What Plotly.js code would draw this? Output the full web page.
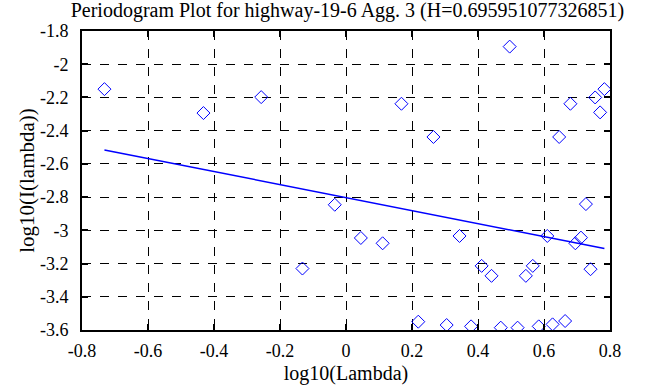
<!DOCTYPE html>
<html>
<head>
<meta charset="utf-8">
<script src="https://cdn.plot.ly/plotly-3.0.1.min.js"></script>
<style>html,body{margin:0;padding:0;background:#fff;}#chart{width:663px;height:387px;}</style>
</head>
<body>
<div id="chart"></div>
<script>
const logLambda = [-0.732, -0.432, -0.257, -0.132, -0.034, 0.045, 0.111, 0.168, 0.265, 0.219,
  0.305, 0.344, 0.379, 0.411, 0.441, 0.469, 0.496, 0.520, 0.545, 0.566,
  0.584, 0.610, 0.626, 0.646, 0.664, 0.680, 0.695, 0.712, 0.727, 0.741,
  0.755, 0.770, 0.783];
const logI = [-2.150, -2.294, -2.198, -3.230, -2.846, -3.046, -3.078, -2.238, -2.438, -3.550,
  -3.570, -3.034, -3.578, -3.214, -3.274, -3.586, -1.894, -3.586, -3.274, -3.214,
  -3.578, -3.034, -3.566, -2.438, -3.546, -2.238, -3.078, -3.044, -2.842, -3.234,
  -2.200, -2.290, -2.150];
const fitX = [-0.732, 0.783];
const fitY = [-2.516, -3.110];
const xTicks = [-0.8, -0.6, -0.4, -0.2, 0, 0.2, 0.4, 0.6, 0.8];
const yTicks = [-1.8, -2, -2.2, -2.4, -2.6, -2.8, -3, -3.2, -3.4, -3.6];

const fam = 'Liberation Serif';
const tickFont = {family: fam, size: 18, color: '#000'};
const axisCommon = {
  showline: true, linecolor: '#000', linewidth: 2, mirror: 'ticks',
  ticks: 'inside', ticklen: 6, tickcolor: '#000', tickwidth: 2,
  showgrid: true, gridcolor: '#000', griddash: 'dash', gridwidth: 1,
  zeroline: false, tickfont: tickFont
};
const data = [
  {x: logLambda, y: logI, type: 'scatter', mode: 'markers',
   marker: {symbol: 'diamond-open', size: 10, color: '#0000ff', line: {width: 1, color: '#0000ff'}},
   hoverinfo: 'skip'},
  {x: fitX, y: fitY, type: 'scatter', mode: 'lines',
   line: {color: '#0000ff', width: 1.5}, hoverinfo: 'skip'}
];
const layout = {
  width: 663, height: 387,
  margin: {l: 82, r: 53, t: 31, b: 57},
  paper_bgcolor: '#fff', plot_bgcolor: '#fff',
  showlegend: false,
  font: tickFont,
  title: {text: 'Periodogram Plot for highway-19-6 Agg. 3 (H=0.695951077326851)', font: {family: fam, size: 20, color: '#000'},
    x: 0.524, xanchor: 'center', yref: 'container', y: 0.975, yanchor: 'middle'},
  xaxis: Object.assign({}, axisCommon, {range: [-0.8, 0.8], tickvals: xTicks, ticktext: xTicks.map(String),
    ticklabelstandoff: 3,
    title: {text: 'log10(Lambda)', font: {family: fam, size: 20, color: '#000'}, standoff: 6}}),
  yaxis: Object.assign({}, axisCommon, {range: [-3.6, -1.8], tickvals: yTicks, ticktext: yTicks.map(String),
    ticklabelstandoff: 8,
    title: {text: 'log10(I(lambda))', font: {family: fam, size: 21, color: '#000'}, standoff: 0}})
};
Plotly.newPlot('chart', data, layout, {staticPlot: true, displayModeBar: false});
</script>
</body>
</html>
